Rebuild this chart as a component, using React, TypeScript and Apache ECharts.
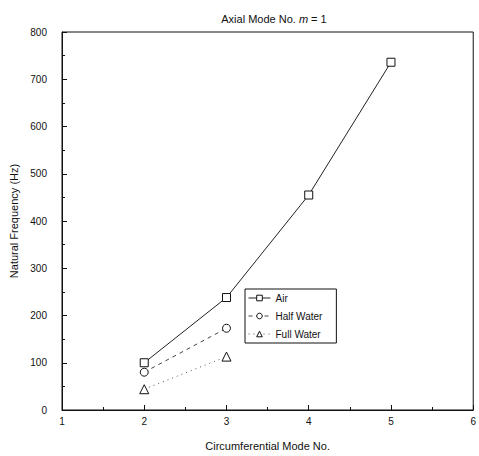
import React, { useEffect, useRef } from "react";
import * as echarts from "echarts";

const modes = [2, 3, 4, 5];
const airHz = [100, 238, 455, 736];
const halfWaterHz = [80, 173];
const fullWaterHz = [44, 113];
const seriesNames = ["Air", "Half Water", "Full Water"];

const FONT = "Liberation Sans, Arial, sans-serif";

export default function App() {
  const ref = useRef<HTMLDivElement>(null);

  useEffect(() => {
    if (!ref.current) return;
    const chart = echarts.init(ref.current, null, { renderer: "svg" });
    const pts = (ys: number[]) => ys.map((y, i) => [modes[i], y]);
    const marker = {
      color: "#fff",
      borderColor: "#111",
      borderWidth: 1,
    };
    chart.setOption({
      animation: false,
      backgroundColor: "#fff",
      textStyle: { fontFamily: FONT, color: "#111" },
      title: {
        text: "Axial Mode No. {i|m} = 1",
        left: 269,
        top: 8,
        textAlign: "center",
        textStyle: {
          fontFamily: FONT,
          fontSize: 11,
          fontWeight: "normal",
          color: "#111",
          rich: {
            i: { fontFamily: FONT, fontSize: 11, fontStyle: "italic", color: "#111" },
          },
        },
      },
      grid: {
        left: 61,
        right: 2,
        top: 32,
        bottom: 44,
        show: true,
        borderColor: "#111",
        borderWidth: 1,
      },
      legend: {
        orient: "vertical",
        left: 245,
        top: 289,
        data: seriesNames,
        borderColor: "#111",
        borderWidth: 1,
        padding: [4, 14, 4, 3],
        itemWidth: 22,
        itemHeight: 7,
        itemGap: 8,
        itemStyle: { borderWidth: 1 },
        lineStyle: { width: 1 },
        textStyle: { fontFamily: FONT, fontSize: 10, color: "#111" },
      },
      xAxis: {
        type: "value",
        min: 1,
        max: 6,
        interval: 1,
        name: "Circumferential Mode No.",
        nameLocation: "middle",
        nameGap: 30,
        nameTextStyle: { fontFamily: FONT, fontSize: 11, color: "#111" },
        axisLine: { lineStyle: { color: "#111" } },
        axisTick: { inside: true, length: 5, lineStyle: { color: "#111" } },
        minorTick: { show: true, splitNumber: 2, length: 3, lineStyle: { color: "#111" } },
        axisLabel: { fontFamily: FONT, fontSize: 10, color: "#111", margin: 6 },
        splitLine: { show: false },
      },
      yAxis: {
        type: "value",
        min: 0,
        max: 800,
        interval: 100,
        name: "Natural Frequency (Hz)",
        nameLocation: "middle",
        nameGap: 43,
        nameTextStyle: { fontFamily: FONT, fontSize: 11, color: "#111" },
        axisLine: { show: true, lineStyle: { color: "#111" } },
        axisTick: { show: true, inside: true, length: 5, lineStyle: { color: "#111" } },
        minorTick: { show: true, splitNumber: 2, length: 3, lineStyle: { color: "#111" } },
        axisLabel: { fontFamily: FONT, fontSize: 10, color: "#111", margin: 15 },
        splitLine: { show: false },
      },
      series: [
        {
          name: seriesNames[0],
          type: "line",
          data: pts(airHz),
          symbol: "rect",
          symbolSize: 8,
          itemStyle: marker,
          lineStyle: { color: "#222", width: 1, type: "solid" },
        },
        {
          name: seriesNames[1],
          type: "line",
          data: pts(halfWaterHz),
          symbol: "circle",
          symbolSize: 8,
          itemStyle: marker,
          lineStyle: { color: "#444", width: 1, type: [4, 4] },
        },
        {
          name: seriesNames[2],
          type: "line",
          data: pts(fullWaterHz),
          symbol: "triangle",
          symbolSize: 9,
          itemStyle: marker,
          lineStyle: { color: "#555", width: 1, type: [1, 4] },
        },
      ],
    });
    return () => chart.dispose();
  }, []);

  return (
    <div
      ref={ref}
      style={{ position: "absolute", left: 0, top: 0, width: 479, height: 456 }}
    />
  );
}
